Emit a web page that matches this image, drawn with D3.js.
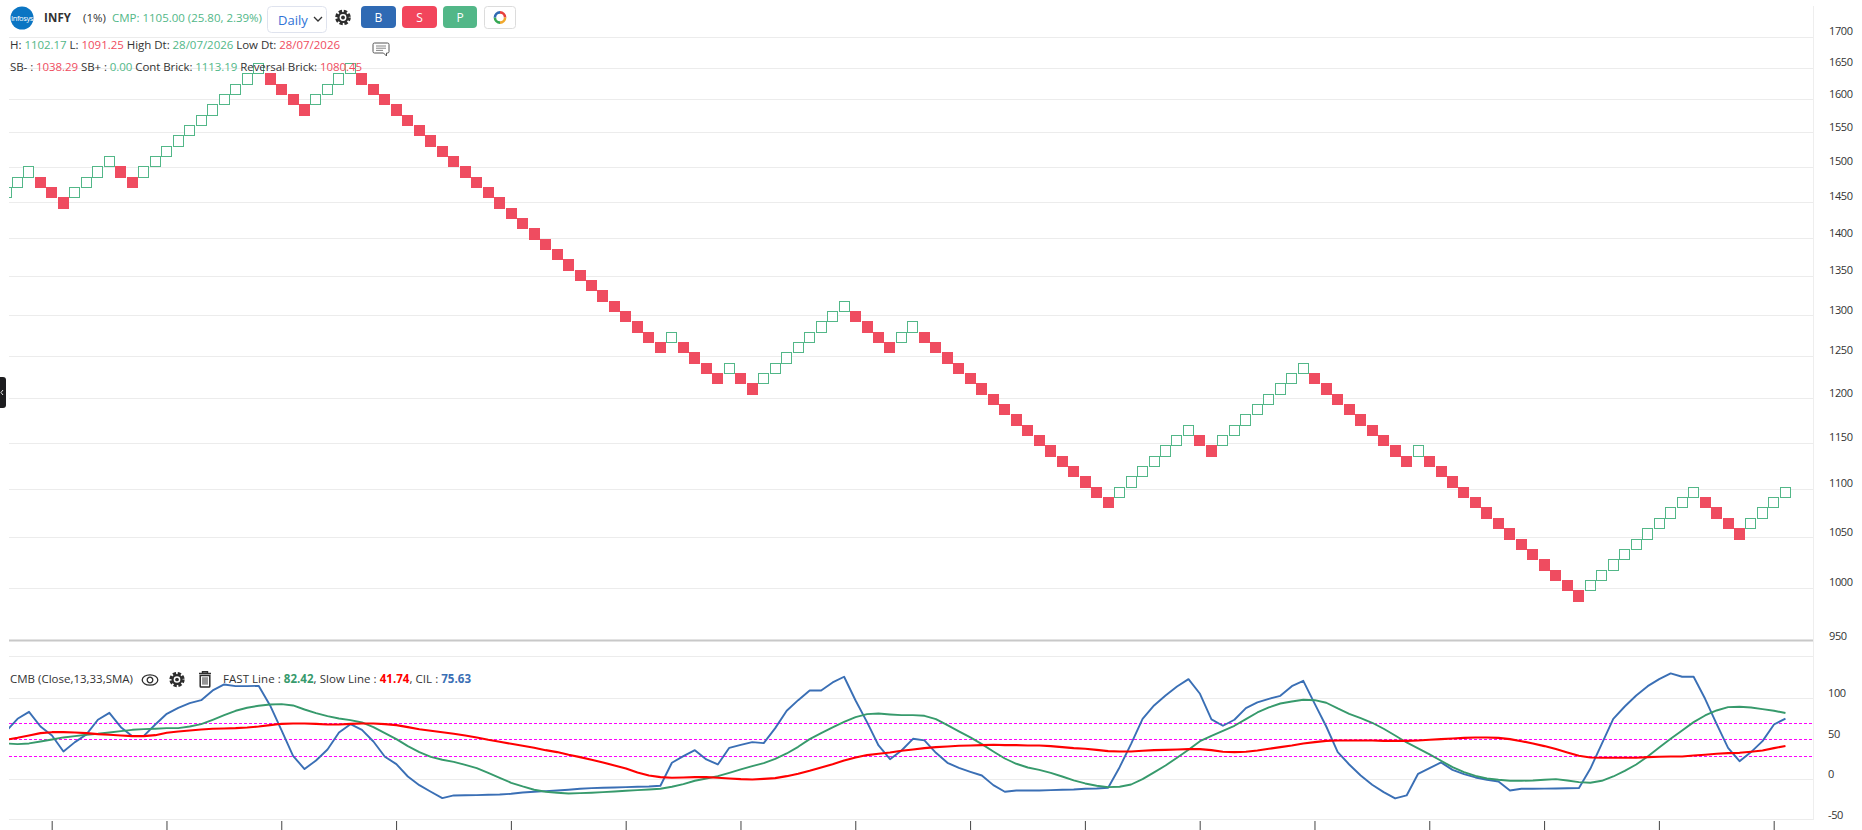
<!DOCTYPE html>
<html>
<head>
<meta charset="utf-8">
<script src="https://cdn.jsdelivr.net/npm/d3@7/dist/d3.min.js"></script>
<style>
html,body{margin:0;padding:0;background:#fff;overflow:hidden}
svg{display:block}
text{font-family:"Open Sans","Noto Sans",sans-serif;font-size:11.5px;fill:#333}
</style>
</head>
<body>
<svg id="c" width="1862" height="830"></svg>
<script>
// ---- Data ----
const brickTop = [
1470.85,1485.56,1500.41,1485.56,1470.85,1456.29,1470.85,1485.56,1500.41,1515.42,1500.41,1485.56,
1500.41,1515.42,1530.57,1545.88,1561.34,1576.95,1592.72,1608.65,1624.73,1640.98,1657.39,
1640.98,1624.73,1608.65,1592.72,1608.65,1624.73,1640.98,1657.39,
1640.98,1624.73,1608.65,1592.72,1576.95,1561.34,1545.88,1530.57,1515.42,1500.41,1485.56,1470.85,1456.29,1441.87,1427.59,1413.46,1399.46,1385.61,1371.89,1358.31,1344.86,1331.54,1318.36,1305.31,1292.38,1279.59,1266.92,
1279.59,1266.92,1254.37,1241.95,1229.66,1241.95,1229.66,1217.48,
1229.66,1241.95,1254.37,1266.92,1279.59,1292.38,1305.31,1318.36,
1305.31,1292.38,1279.59,1266.92,1279.59,1292.38,
1279.59,1266.92,1254.37,1241.95,1229.66,1217.48,1205.43,1193.49,1181.68,1169.98,1158.39,1146.92,1135.57,1124.32,1113.19,1102.17,1091.25,
1102.17,1113.19,1124.32,1135.57,1146.92,1158.39,1169.98,1158.39,1146.92,
1158.39,1169.98,1181.68,1193.49,1205.43,1217.48,1229.66,1241.95,
1229.66,1217.48,1205.43,1193.49,1181.68,1169.98,1158.39,1146.92,1135.57,1146.92,
1135.57,1124.32,1113.19,1102.17,1091.25,1080.45,1069.75,1059.16,1048.67,1038.29,1028.01,1017.83,1007.76,997.78,
1007.76,1017.83,1028.01,1038.29,1048.67,1059.16,1069.75,1080.45,1091.25,1102.17,
1091.25,1080.45,1069.75,1059.16,1069.75,1080.45,1091.25,1102.17];
const brickPercent = 1;

const cilLine = [59.7,75.3,83.9,65.8,54.7,35.0,46.5,56.0,74.1,82.7,65.0,53.9,54.3,68.3,81.5,88.9,94.6,98.3,110.3,117.7,115.6,115.6,116.0,91.8,60.9,29.6,13.2,23.9,37.4,58.4,68.7,61.7,47.3,28.4,19.3,4.1,-6.6,-14.8,-22.6,-19.3,-19.1,-18.9,-18.5,-18.1,-17.3,-15.6,-14.8,-14.0,-13.2,-12.3,-11.1,-10.3,-9.9,-9.5,-9.1,-8.6,-8.2,-7.4,21.0,29.2,36.6,25.1,18.9,39.5,43.2,46.5,45.3,63.8,85.2,98.3,110.3,110.3,120.2,127.2,97.9,71.2,42.4,25.5,36.2,50.6,48.6,33.3,21.0,14.8,9.9,5.3,-6.6,-14.8,-13.2,-13.0,-13.2,-12.8,-12.3,-11.9,-11.1,-10.7,-9.9,15.6,44.4,75.3,91.8,104.1,115.2,124.3,106.2,74.5,66.7,74.1,88.5,95.5,100.0,103.7,115.6,122.2,93.8,65.8,34.2,18.9,5.3,-6.2,-15.2,-23.0,-19.3,7.4,14.4,21.4,12.3,7.0,2.9,0,-2.1,-13.2,-11.1,-11.1,-10.9,-10.7,-10.5,-10.3,13.6,44.4,75.3,90.5,104.1,115.6,124.3,131.3,127.2,127.2,100.0,69.1,39.5,23.0,34.2,47.7,68.3,75.63];

const fastLine = [44.9,44.0,44.9,47.3,49.8,52.3,53.9,55.6,56.8,58.4,60.1,61.7,62.5,63.0,63.8,63.8,65.8,68.7,74.1,79.8,85.2,88.9,91.4,93.0,93.4,91.8,86.8,82.3,78.6,75.7,73.7,70.8,65.0,57.6,50.2,41.6,34.2,28.4,24.7,22.2,18.5,14.4,8.6,2.5,-3.7,-8.2,-12.3,-14.8,-16.0,-16.9,-16.5,-16.0,-15.2,-14.4,-13.6,-12.8,-11.9,-11.1,-8.6,-5.3,-1.2,1.6,4.5,8.6,12.8,16.9,20.6,25.9,32.5,40.7,50.2,57.6,64.6,71.6,77.4,81.1,81.9,80.7,79.8,79.8,79.0,74.9,67.5,59.7,52.3,44.0,35.0,26.3,19.8,15.2,12.3,8.6,4.1,-0.8,-4.5,-7.4,-9.1,-8.6,-5.8,0.8,9.1,17.7,27.2,37.0,47.7,54.3,60.5,66.7,74.9,83.1,89.3,94.2,96.7,98.8,98.3,95.1,88.1,81.5,76.1,70.4,63.0,54.7,46.1,38.7,31.3,23.5,15.6,9.5,4.9,1.6,0,-1.2,-1.2,-0.8,0,0.8,-0.8,-2.9,-3.7,-1.2,4.1,11.1,18.9,28.8,39.9,50.6,60.9,71.2,79.4,85.6,89.7,90.1,89.3,87.2,85.2,82.42];

const slowLine = [49.4,51.8,54.7,57.6,58.8,58.8,58.4,57.6,56.4,55.6,54.7,53.9,53.9,55.1,58.0,59.7,60.9,62.1,63.0,63.4,63.8,64.6,65.8,67.5,69.1,69.5,69.5,69.1,68.3,68.3,69.1,69.5,69.5,68.7,67.5,65.0,62.5,60.5,58.8,56.8,54.7,52.3,49.4,46.9,44.4,42.0,39.5,36.6,34.2,30.9,28.0,24.7,21.4,17.7,14.0,9.1,5.3,3.3,2.5,2.9,3.3,3.3,2.5,1.6,0.8,0.4,1.2,2.1,4.5,7.4,11.1,15.2,19.3,23.9,27.6,30.5,32.1,33.7,35.8,37.4,39.1,40.3,41.2,42.0,42.4,42.8,43.2,42.8,42.8,42.4,42.4,41.6,40.3,39.1,38.3,37.0,35.4,35.0,35.0,35.8,36.6,37.0,37.4,37.9,37.9,36.6,34.6,34.2,34.6,36.2,38.3,40.3,42.4,44.9,46.5,48.1,48.6,48.6,48.6,48.6,48.1,48.1,48.1,48.6,49.4,50.2,51.0,51.8,52.3,52.3,51.8,50.2,47.7,44.9,41.6,37.9,33.7,29.6,27.6,27.2,27.2,27.2,27.2,28.0,28.4,28.8,28.8,30.0,30.9,32.1,32.9,33.3,34.6,36.2,39.1,41.74];

const priceTicks = [1700,1650,1600,1550,1500,1450,1400,1350,1300,1250,1200,1150,1100,1050,1000,950];
const cmbTicks = [100,50,0,-50];
const cmbGrid = [152,100,0,-50];
const cmbBands = [70,50,30];
const columnTicks = [3,13,23,33,43,53,63,73,83,93,103,113,123,133,143,153];

const GREEN="#52b788", RED="#ef4c60", BLUE="#3a6fb5", LINEGREEN="#379a6c";

// ---- Scales ----
const svg = d3.select("#c");
const L=9, R=1813;
const x = d3.scaleBand().domain(brickTop.map((_,i)=>i-1)).range([0.52,0.52+brickTop.length*11.48]).padding(0);
const y = d3.scaleLog().domain([950,1700]).range([641.2,36.5]);
const yc = d3.scaleLinear().domain([-50,150]).range([820.3,658.3]);
const cx = c=>x(c)+x.bandwidth()/2-0.2;

const defs = svg.append("defs");
defs.append("clipPath").attr("id","plot").append("rect").attr("x",L).attr("y",0).attr("width",R-L).attr("height",830);

// ---- Grid ----
svg.append("g").selectAll("line").data(priceTicks.filter(d=>d!==950)).join("line")
  .attr("x1",L).attr("x2",R).attr("y1",d=>Math.round(y(d))+.5).attr("y2",d=>Math.round(y(d))+.5)
  .attr("stroke","#ececec");
svg.append("g").selectAll("line").data(cmbGrid).join("line")
  .attr("x1",L).attr("x2",R).attr("y1",d=>Math.round(yc(d))-.5).attr("y2",d=>Math.round(yc(d))-.5)
  .attr("stroke","#ececec");
svg.append("line").attr("x1",R+.5).attr("x2",R+.5).attr("y1",6).attr("y2",820).attr("stroke","#eeeeee");
svg.append("line").attr("x1",L).attr("x2",R).attr("y1",640.5).attr("y2",640.5).attr("stroke","#c8c8c8").attr("stroke-width",2);

// ---- Bricks ----
const bricks = brickTop.map((v,i)=>({c:i-1,top:v,up:i===0||v>brickTop[i-1]}));
svg.append("g").attr("clip-path","url(#plot)").selectAll("rect").data(bricks).join("rect")
  .attr("shape-rendering","crispEdges")
  .attr("x",d=>Math.round(x(d.c))+(d.up?.5:0))
  .attr("width",d=>d.up?10:11)
  .attr("y",d=>Math.round(y(d.top))+(d.up?.5:0))
  .attr("height",d=>{const h=Math.round(y(d.top/(1+brickPercent/100)))-Math.round(y(d.top));return d.up?h:h+1;})
  .attr("fill",d=>d.up?"#fff":RED)
  .attr("stroke",d=>d.up?GREEN:"none");

// ---- Right axes ----
const a1 = svg.append("g").attr("transform",`translate(1829,0)`)
  .call(d3.axisRight(y).tickValues(priceTicks).tickFormat(d=>String(d)).tickSize(0).tickPadding(0));
const a2 = svg.append("g").attr("transform",`translate(1828,0)`)
  .call(d3.axisRight(yc).tickValues(cmbTicks).tickFormat(d=>String(d)).tickSize(0).tickPadding(0));
[a1,a2].forEach(a=>{a.select(".domain").remove();
  a.selectAll("text").attr("dy","-0.2em").style("font-size","11px").style("letter-spacing","-0.4px")
   .style("font-family",'"Open Sans"').attr("fill","#333");});

// ---- Bottom ticks ----
const ab = svg.append("g").attr("transform","translate(0,821)")
  .call(d3.axisBottom(x).tickValues(columnTicks).tickFormat("").tickSize(9));
ab.select(".domain").remove();
ab.selectAll("line").attr("stroke","#444");

// ---- CMB panel lines ----
svg.append("g").selectAll("line").data(cmbBands).join("line")
  .attr("x1",L).attr("x2",R).attr("y1",d=>Math.round(yc(d))+.5).attr("y2",d=>Math.round(yc(d))+.5)
  .attr("stroke","#ff00ff").attr("stroke-width",1).attr("stroke-dasharray","3,2");
const cols = brickTop.map((_,i)=>i-1);
const lineGen = s => d3.line().x((_,i)=>cx(cols[i])).y(d=>yc(d))(s);
const gl = svg.append("g").attr("clip-path","url(#plot)").attr("fill","none").attr("stroke-linejoin","round");
gl.append("path").attr("d",lineGen(cilLine)).attr("stroke",BLUE).attr("stroke-width",1.9);
gl.append("path").attr("d",lineGen(fastLine)).attr("stroke",LINEGREEN).attr("stroke-width",1.9);
gl.append("path").attr("d",lineGen(slowLine)).attr("stroke","#ff0000").attr("stroke-width",2.1);

// ---- Header ----
function textRow(xp,yp,parts,len){
  const t=svg.append("text").attr("x",xp).attr("y",yp);
  if(len) t.attr("textLength",len).attr("lengthAdjust","spacing");
  parts.forEach(p=>{const s=t.append("tspan").text(p[0]).style("fill",p[1]||"#333");
    if(p[2]) s.style("font-weight",p[2]);});
  return t;
}
// logo
svg.append("circle").attr("cx",22).attr("cy",18).attr("r",11.5).attr("fill","#0b75c3");
svg.append("text").attr("x",22).attr("y",21).attr("text-anchor","middle").text("Infosys")
  .style("fill","#fff").style("font-size","7.5px").style("letter-spacing","-0.4px");
textRow(44,22,[["INFY","#333","700"]],27);
textRow(83,22,[["(1%)","#333"]],23);
textRow(112,22,[["CMP: 1105.00 (25.80, 2.39%)",GREEN]],150);
// select
svg.append("rect").attr("x",267.5).attr("y",6.5).attr("width",59).attr("height",26).attr("rx",4)
  .attr("fill","#fff").attr("stroke","#dfe3ee");
svg.append("text").attr("x",278).attr("y",25).text("Daily").style("fill","#2f72d6").style("font-size","13px");
svg.append("path").attr("d","M314 17l4 4 4-4").attr("fill","none").attr("stroke","#333").attr("stroke-width",1.3);

function gear(cxp,cyp,s){
  const g=svg.append("g").attr("transform",`translate(${cxp},${cyp}) scale(${s})`);
  g.append("circle").attr("r",6.2).attr("fill","none").attr("stroke","#2d2d2d").attr("stroke-width",3.2).attr("stroke-dasharray","3.2,1.67");
  g.append("circle").attr("r",5.6).attr("fill","#2d2d2d");
  g.append("circle").attr("r",3.4).attr("fill","#fff");
  g.append("circle").attr("r",1.9).attr("fill","#2d2d2d");
}
gear(343,17.5,1);
// buttons
[["B",361,35,"#2f6ab4"],["S",402,35,"#f2455c"],["P",443,34,"#52b788"]].forEach(b=>{
  svg.append("rect").attr("x",b[1]).attr("y",6).attr("width",b[2]).attr("height",22).attr("rx",4).attr("fill",b[3]);
  svg.append("text").attr("x",b[1]+b[2]/2).attr("y",21.5).attr("text-anchor","middle").text(b[0]).style("fill","#fff").style("font-size","12px");
});
svg.append("rect").attr("x",484.5).attr("y",6.5).attr("width",31).attr("height",22).attr("rx",3).attr("fill","#fff").attr("stroke","#dcdcdc");
[["#e8403c",0,.25],["#f0a92e",.25,.5],["#35a853",.5,.75],["#2f6ab4",.75,1]].forEach(a=>{
  svg.append("path").attr("transform","translate(500,17.5)")
   .attr("d",d3.arc().innerRadius(3.8).outerRadius(6.4).startAngle(a[1]*2*Math.PI).endAngle(a[2]*2*Math.PI)()).attr("fill",a[0]);
});
// info rows
textRow(10,49,[["H: "],["1102.17",GREEN],[" L: "],["1091.25",RED],[" High Dt: "],["28/07/2026",GREEN],[" Low Dt: "],["28/07/2026",RED]],330);
textRow(10,71,[["SB- : "],["1038.29",RED],[" SB+ : "],["0.00",GREEN],[" Cont Brick: "],["1113.19",GREEN],[" Reversal Brick: "],["1080.45",RED]],352);
// comment icon
svg.append("path").attr("d","M374.5 43h13a1.5 1.5 0 0 1 1.5 1.5v7a1.5 1.5 0 0 1-1.5 1.5h-1v3l-3-3h-9a1.5 1.5 0 0 1-1.5-1.5v-7a1.5 1.5 0 0 1 1.5-1.5z")
  .attr("fill","#fff").attr("stroke","#555").attr("stroke-width",1);
svg.append("path").attr("d","M376 46h10M376 48.2h10M376 50.4h7").attr("stroke","#666").attr("stroke-width",.8);

// left handle
svg.append("rect").attr("x",-4).attr("y",377).attr("width",10).attr("height",31).attr("rx",3).attr("fill","#1d1d1f");
svg.append("path").attr("d","M3 390l-2 2.5 2 2.5").attr("fill","none").attr("stroke","#fff").attr("stroke-width",.9);

// CMB title
textRow(10,683,[["CMB (Close,13,33,SMA)"]],123);
const eye=svg.append("g").attr("transform","translate(150,680)");
eye.append("ellipse").attr("rx",7.8).attr("ry",5.2).attr("fill","none").attr("stroke","#2d2d2d").attr("stroke-width",1.3);
eye.append("circle").attr("r",2.8).attr("fill","none").attr("stroke","#2d2d2d").attr("stroke-width",1.3);
gear(177,679.5,.98);
const tr=svg.append("g").attr("transform","translate(205,679)");
tr.append("path").attr("d","M-6-5.5h12M-2.5-5.5v-1.8h5v1.8").attr("fill","none").attr("stroke","#2d2d2d").attr("stroke-width",1.4);
tr.append("path").attr("d","M-4.8-3.6h9.6v10.8a.8.8 0 0 1-.8.8h-8a.8.8 0 0 1-.8-.8z").attr("fill","none").attr("stroke","#2d2d2d").attr("stroke-width",1.5);
tr.append("path").attr("d","M-2-1.8v7.5M0-1.8v7.5M2-1.8v7.5").attr("stroke","#2d2d2d").attr("stroke-width",1);
textRow(223,683,[["FAST Line : "],["82.42",LINEGREEN,"700"],[", Slow Line : "],["41.74","#ff0000","700"],[", CIL : "],["75.63",BLUE,"700"]],248);
</script>
</body>
</html>
